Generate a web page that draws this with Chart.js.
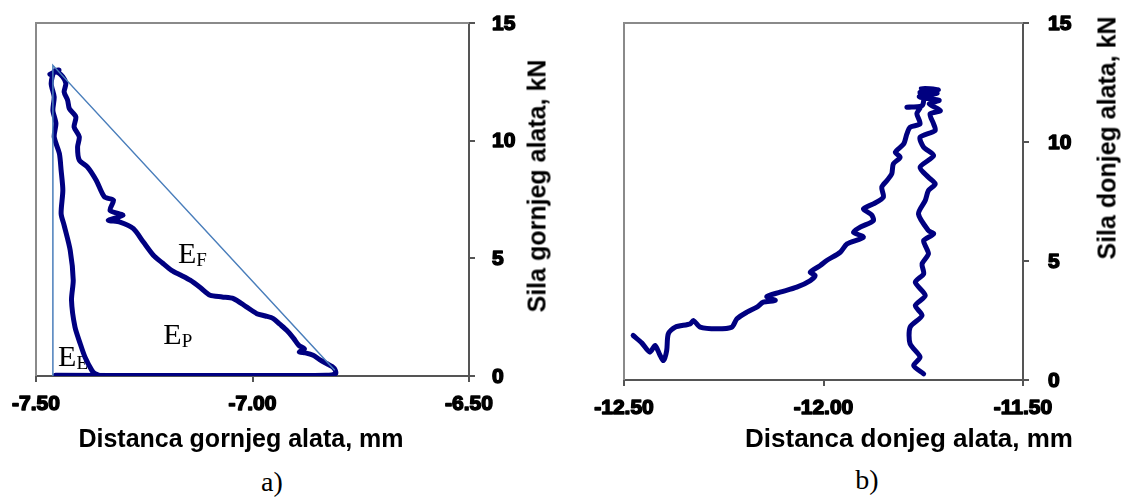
<!DOCTYPE html>
<html>
<head>
<meta charset="utf-8">
<script src="https://cdn.jsdelivr.net/npm/chart.js@4/dist/chart.umd.min.js"></script>
<style>
  body { margin: 0; background: #fff; }
  #wrap { position: relative; width: 1127px; height: 498px; overflow: hidden; }
  canvas { position: absolute; top: 0; }
  .t { position: absolute; font: bold 25px "Liberation Sans", Arial, sans-serif; color: #000;
       white-space: nowrap; line-height: 1; transform: translate(-50%, -50%); }
  .rot { transform: translate(-50%, -50%) rotate(-90deg); }
  .lab { position: absolute; font: 28px "Liberation Serif", "Times New Roman", serif; color: #000;
         line-height: 1; transform: translate(-50%, -50%); }
</style>
</head>
<body>
<div id="wrap">
  <canvas id="chartA" width="560" height="440" style="left:0px"></canvas>
  <canvas id="chartB" width="547" height="440" style="left:580px"></canvas>
  <div class="t" style="left:241px; top:438px">Distanca gornjeg alata, mm</div>
  <div class="t" style="left:909px; top:438px; font-size:26px">Distanca donjeg alata, mm</div>
  <div class="t rot" style="left:537px; top:186px">Sila gornjeg alata, kN</div>
  <div class="t rot" style="left:1107px; top:138px">Sila donjeg alata, kN</div>
  <div class="lab" style="left:272px; top:482px">a)</div>
  <div class="lab" style="left:867px; top:480px">b)</div>
</div>
<script>
// osi
var xTicksA = [-7.5, -7.0, -6.5];
var xTicksB = [-12.5, -12.0, -11.5];
var yTicks = [0, 5, 10, 15];

// a) gornji alat: donja linija, rasterecenje gore, pa E_E krivulja dolje
var gornjiPut = [
  [-7.455, 0.03], [-7.2, 0.02], [-7.0, 0.02], [-6.83, 0.03], [-6.808, 0.1],
  [-6.809, 0.25], [-6.816, 0.4], [-6.829, 0.53], [-6.845, 0.7], [-6.860, 0.88],
  [-6.878, 0.98], [-6.892, 1.02], [-6.880, 1.15], [-6.893, 1.3], [-6.905, 1.6],
  [-6.921, 1.94], [-6.937, 2.2], [-6.952, 2.44], [-6.970, 2.55], [-6.990, 2.65],
  [-7.015, 2.95], [-7.044, 3.29], [-7.070, 3.36], [-7.098, 3.43], [-7.120, 3.75],
  [-7.144, 4.07], [-7.165, 4.28], [-7.187, 4.49], [-7.208, 4.8], [-7.229, 5.13],
  [-7.252, 5.69], [-7.275, 6.26], [-7.306, 6.54], [-7.333, 6.62], [-7.299, 6.83],
  [-7.329, 7.04], [-7.321, 7.47], [-7.342, 7.61], [-7.361, 8.32], [-7.381, 8.88],
  [-7.400, 9.17], [-7.404, 9.73], [-7.400, 10.16], [-7.412, 10.58], [-7.408, 11.01],
  [-7.423, 11.36], [-7.427, 11.72], [-7.435, 12.07], [-7.431, 12.43], [-7.438, 12.71],
  [-7.452, 12.92], [-7.468, 12.82], [-7.447, 13.0], [-7.458, 12.95],
  [-7.465, 12.43], [-7.458, 11.86], [-7.461, 11.29], [-7.454, 10.73], [-7.458, 10.16],
  [-7.446, 9.45], [-7.442, 8.74], [-7.438, 7.89], [-7.442, 6.9], [-7.435, 6.4],
  [-7.421, 5.34], [-7.414, 4.07], [-7.418, 3.22], [-7.410, 2.08], [-7.398, 1.38],
  [-7.387, 0.81], [-7.371, 0.24], [-7.364, 0.1], [-7.355, 0.03]
];
// trokut energija (bez donje stranice)
var trokut = [[-7.461, 0.0], [-7.461, 13.2], [-6.81, 0.24]];

// b) donji alat
var donjiPut = [
  [-12.477, 1.87], [-12.455, 1.55], [-12.435, 1.17], [-12.422, 1.45], [-12.410, 1.05],
  [-12.401, 0.82], [-12.393, 1.24], [-12.389, 1.94], [-12.372, 2.22], [-12.334, 2.36],
  [-12.326, 2.5], [-12.309, 2.22], [-12.267, 2.15], [-12.230, 2.22], [-12.217, 2.57],
  [-12.192, 2.85], [-12.167, 3.06], [-12.151, 3.27], [-12.121, 3.34], [-12.142, 3.51],
  [-12.109, 3.69], [-12.067, 3.9], [-12.033, 4.18], [-12.021, 4.39], [-12.033, 4.53],
  [-12.008, 4.81], [-11.992, 5.02], [-11.958, 5.37], [-11.941, 5.72], [-11.900, 6.0],
  [-11.925, 6.21], [-11.908, 6.42], [-11.875, 6.7], [-11.880, 6.95], [-11.900, 7.19],
  [-11.875, 7.4], [-11.850, 7.68], [-11.854, 8.1], [-11.841, 8.38], [-11.829, 8.66],
  [-11.825, 9.08], [-11.808, 9.36], [-11.820, 9.57], [-11.799, 9.92], [-11.791, 10.34],
  [-11.783, 10.62], [-11.758, 10.76], [-11.766, 11.19], [-11.758, 11.46], [-11.791, 11.46],
  [-11.753, 11.53], [-11.749, 11.88], [-11.758, 12.09], [-11.712, 12.19], [-11.755, 12.25],
  [-11.715, 12.05], [-11.760, 11.9], [-11.710, 11.75], [-11.735, 11.6], [-11.707, 11.32],
  [-11.733, 11.18], [-11.724, 10.76], [-11.720, 10.48], [-11.758, 10.2], [-11.749, 9.78],
  [-11.724, 9.43], [-11.758, 8.94], [-11.737, 8.52], [-11.720, 8.24], [-11.737, 7.96],
  [-11.745, 7.54], [-11.762, 6.98], [-11.737, 6.28], [-11.724, 6.14], [-11.749, 5.86],
  [-11.745, 5.65], [-11.737, 5.3], [-11.753, 4.88], [-11.749, 4.46], [-11.770, 4.11],
  [-11.745, 3.55], [-11.770, 3.13], [-11.753, 2.71], [-11.783, 2.22], [-11.783, 1.52],
  [-11.758, 0.96], [-11.774, 0.61], [-11.749, 0.26]
];

function toPts(arr) {
  return arr.map(function (p) { return { x: p[0], y: p[1] }; });
}

// sivi okvir gore i lijevo
const okvir = {
  id: 'okvir',
  beforeDatasetsDraw(chart) {
    const a = chart.chartArea, c = chart.ctx;
    c.save();
    c.strokeStyle = '#8a8a8a';
    c.lineWidth = 2;
    c.beginPath();
    c.moveTo(a.left, a.bottom);
    c.lineTo(a.left, a.top);
    c.lineTo(a.right, a.top);
    c.stroke();
    c.restore();
  }
};

// masne oznake na osima, na pozicijama koje daju skale
function masno(c, s, x, y) {
  c.fillText(s, x, y);
  c.strokeText(s, x, y);
}
function oznakeOsi(yOff) {
  return {
    id: 'oznakeOsi',
    afterDraw(chart) {
      const c = chart.ctx, sx = chart.scales.x, sy = chart.scales.y, a = chart.chartArea;
      c.save();
      c.fillStyle = '#000';
      c.strokeStyle = '#000';
      c.lineWidth = 1.5;
      c.lineJoin = 'round';
      c.font = 'bold 21px Arial';
      c.textBaseline = 'middle';
      c.textAlign = 'center';
      sx.ticks.forEach(function (t) {
        masno(c, Number(t.value).toFixed(2), sx.getPixelForValue(t.value), a.bottom + 28);
      });
      c.textAlign = 'left';
      sy.ticks.forEach(function (t) {
        masno(c, String(t.value), a.right + yOff, sy.getPixelForValue(t.value) + 1);
      });
      c.restore();
    }
  };
}

// oznake E_F, E_P, E_E
var oznake = [['E', 'F', -7.172, 4.79], ['E', 'P', -7.206, 1.35], ['E', 'E', -7.449, 0.41]];
const tekst = {
  id: 'tekst',
  beforeDatasetsDraw(chart) {
    const c = chart.ctx, sx = chart.scales.x, sy = chart.scales.y;
    c.save();
    c.fillStyle = '#000';
    c.textBaseline = 'alphabetic';
    oznake.forEach(function (o) {
      var px = sx.getPixelForValue(o[2]), py = sy.getPixelForValue(o[3]);
      c.font = '30px "Liberation Serif"';
      c.fillText(o[0], px, py);
      var w = c.measureText(o[0]).width;
      c.font = '19px "Liberation Serif"';
      c.fillText(o[1], px + w, py + 3);
    });
    c.restore();
  }
};

function opcije(xmin, xmax, xt, yw, xh, padL) {
  return {
    responsive: false,
    animation: false,
    layout: { padding: { left: padL, top: 23, right: 0, bottom: 0 } },
    plugins: { legend: { display: false }, tooltip: { enabled: false } },
    elements: { point: { radius: 0 } },
    scales: {
      x: {
        type: 'linear', min: xmin, max: xmax,
        afterBuildTicks: function (s) { s.ticks = xt.map(function (v) { return { value: v }; }); },
        afterFit: function (s) { s.height = xh; },
        border: { color: '#555', width: 2 },
        grid: { drawOnChartArea: false, drawTicks: true, tickLength: 6, color: '#555', lineWidth: 2 },
        ticks: { display: false, autoSkip: false, maxRotation: 0 }
      },
      y: {
        type: 'linear', position: 'right', min: 0, max: 15,
        afterBuildTicks: function (s) { s.ticks = yTicks.map(function (v) { return { value: v }; }); },
        afterFit: function (s) { s.width = yw; },
        border: { color: '#555', width: 2 },
        grid: { drawOnChartArea: false, drawTicks: true, tickLength: 6, color: '#555', lineWidth: 2 },
        ticks: { display: false }
      }
    }
  };
}

new Chart(document.getElementById('chartA'), {
  type: 'scatter',
  data: {
    datasets: [
      { data: toPts(trokut), showLine: true, borderColor: '#4a7ebb', borderWidth: 1.5, order: 0, tension: 0 },
      { data: toPts(gornjiPut), showLine: true, borderColor: '#000080', borderWidth: 5, order: 1, tension: 0.25,
        borderJoinStyle: 'round', borderCapStyle: 'round' }
    ]
  },
  options: opcije(-7.5, -6.5, xTicksA, 91, 64, 36),
  plugins: [okvir, tekst, oznakeOsi(23)]
});

new Chart(document.getElementById('chartB'), {
  type: 'scatter',
  data: {
    datasets: [
      { data: toPts(donjiPut), showLine: true, borderColor: '#000080', borderWidth: 5, tension: 0.25,
        borderJoinStyle: 'round', borderCapStyle: 'round' }
    ]
  },
  options: opcije(-12.5, -11.5, xTicksB, 104, 60, 44),
  plugins: [okvir, oznakeOsi(25)]
});
</script>
</body>
</html>
